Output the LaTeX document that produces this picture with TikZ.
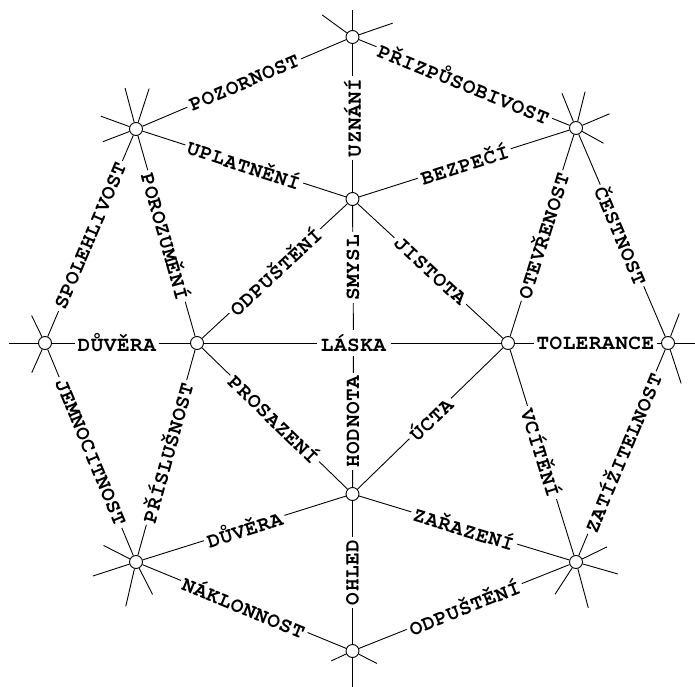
\documentclass[tikz,border=0pt]{standalone}
\usepackage{fontspec}
\newfontfamily\cursorfamily{TeX Gyre Cursor}[LetterSpace=2.5]
\usetikzlibrary{calc}
\newcommand{\wordfont}{\cursorfamily\bfseries\fontsize{21}{21}\selectfont}
\tikzset{
  knot/.style={circle, draw, fill=white, minimum size=13pt, inner sep=0pt},
  hub/.style={fill=white, inner sep=4pt, font=\wordfont},
  word/.style={sloped, fill=white, inner sep=3pt, font=\wordfont},
  upword/.style={rotate=90, fill=white, inner sep=3pt, font=\wordfont},
  every edge/.style={draw, line width=0.9pt},
}

\begin{document}
\begin{tikzpicture}[x=1pt, y=1pt, line width=0.9pt]
  \useasboundingbox (0,0) rectangle (695,686);
  % the twelve knots
  \node[knot] (T)  at (352.5,649) {};
  \node[knot] (UL) at (136,557) {};
  \node[knot] (UR) at (576,558) {};
  \node[knot] (C1) at (352.5,487) {};
  \node[knot] (L)  at (45,343) {};
  \node[knot] (IL) at (197,343) {};
  \node[knot] (IR) at (508,343) {};
  \node[knot] (R)  at (668,343) {};
  \node[knot] (C2) at (352.5,192) {};
  \node[knot] (LL) at (136,124) {};
  \node[knot] (LR) at (576,124) {};
  \node[knot] (B)  at (352.5,35) {};
  \node[hub] (Ctr) at (353.5,343) {LÁSKA};

  % loose ends
  \foreach \a/\l in {90/27, 144/37, 19/42} \draw (T.\a) -- ++(\a:\l-6.5);
  \foreach \a/\l in {105/42, 72/42, 160/37, 201/35} \draw (UL.\a) -- ++(\a:\l-6.5);
  \foreach \a/\l in {112/37, 76/37, 23/36, -29/31} \draw (UR.\a) -- ++(\a:\l-6.5);
  \foreach \a/\l in {180/36, 116/30, 246/32} \draw (L.\a) -- ++(\a:\l-6.5);
  \foreach \a/\l in {0/32, 69/31, -72/42} \draw (R.\a) -- ++(\a:\l-6.5);
  \foreach \a/\l in {153/36, 198/45, 257/45, -63/36} \draw (LL.\a) -- ++(\a:\l-6.5);
  \foreach \a/\l in {26/34, -16/43, 237/38, -75/47} \draw (LR.\a) -- ++(\a:\l-6.5);
  \foreach \a/\l in {270/36, 205/23, -27/27} \draw (B.\a) -- ++(\a:\l-6.5);

  \path (UL) edge node[word]{POZORNOST} (T)
        (T) edge node[word]{PŘIZPŮSOBIVOST} (UR)
        (C1) edge node[upword]{UZNÁNÍ} (T)
        (UL) edge node[word]{UPLATNĚNÍ} (C1)
        (C1) edge node[word]{BEZPEČÍ} (UR)
        (L) edge node[word]{SPOLEHLIVOST} (UL)
        (UL) edge node[word]{POROZUMĚNÍ} (IL)
        (IR) edge node[word]{OTEVŘENOST} (UR)
        (UR) edge node[word]{ČESTNOST} (R)
        (IL) edge node[word]{ODPUŠTĚNÍ} (C1)
        (Ctr) edge node[upword]{SMYSL} (C1)
        (C1) edge node[word]{JISTOTA} (IR)
        (L) edge node[word, pos=0.47]{DŮVĚRA} (IL)
        (IL) edge (Ctr)
        (Ctr) edge (IR)
        (IR) edge node[word, pos=0.55]{TOLERANCE} (R)
        (L) edge node[word]{JEMNOCITNOST} (LL)
        (LL) edge node[word]{PŘÍSLUŠNOST} (IL)
        (IL) edge node[word]{PROSAZENÍ} (C2)
        (C2) edge node[upword]{HODNOTA} (Ctr)
        (C2) edge node[word]{ÚCTA} (IR)
        (IR) edge node[word]{VCÍTĚNÍ} (LR)
        (LR) edge node[word]{ZATÍŽITELNOST} (R)
        (LL) edge node[word]{DŮVĚRA} (C2)
        (C2) edge node[word]{ZAŘAZENÍ} (LR)
        (LL) edge node[word]{NÁKLONNOST} (B)
        (B) edge node[upword]{OHLED} (C2)
        (B) edge node[word]{ODPUŠTĚNÍ} (LR);
\end{tikzpicture}
\end{document}
